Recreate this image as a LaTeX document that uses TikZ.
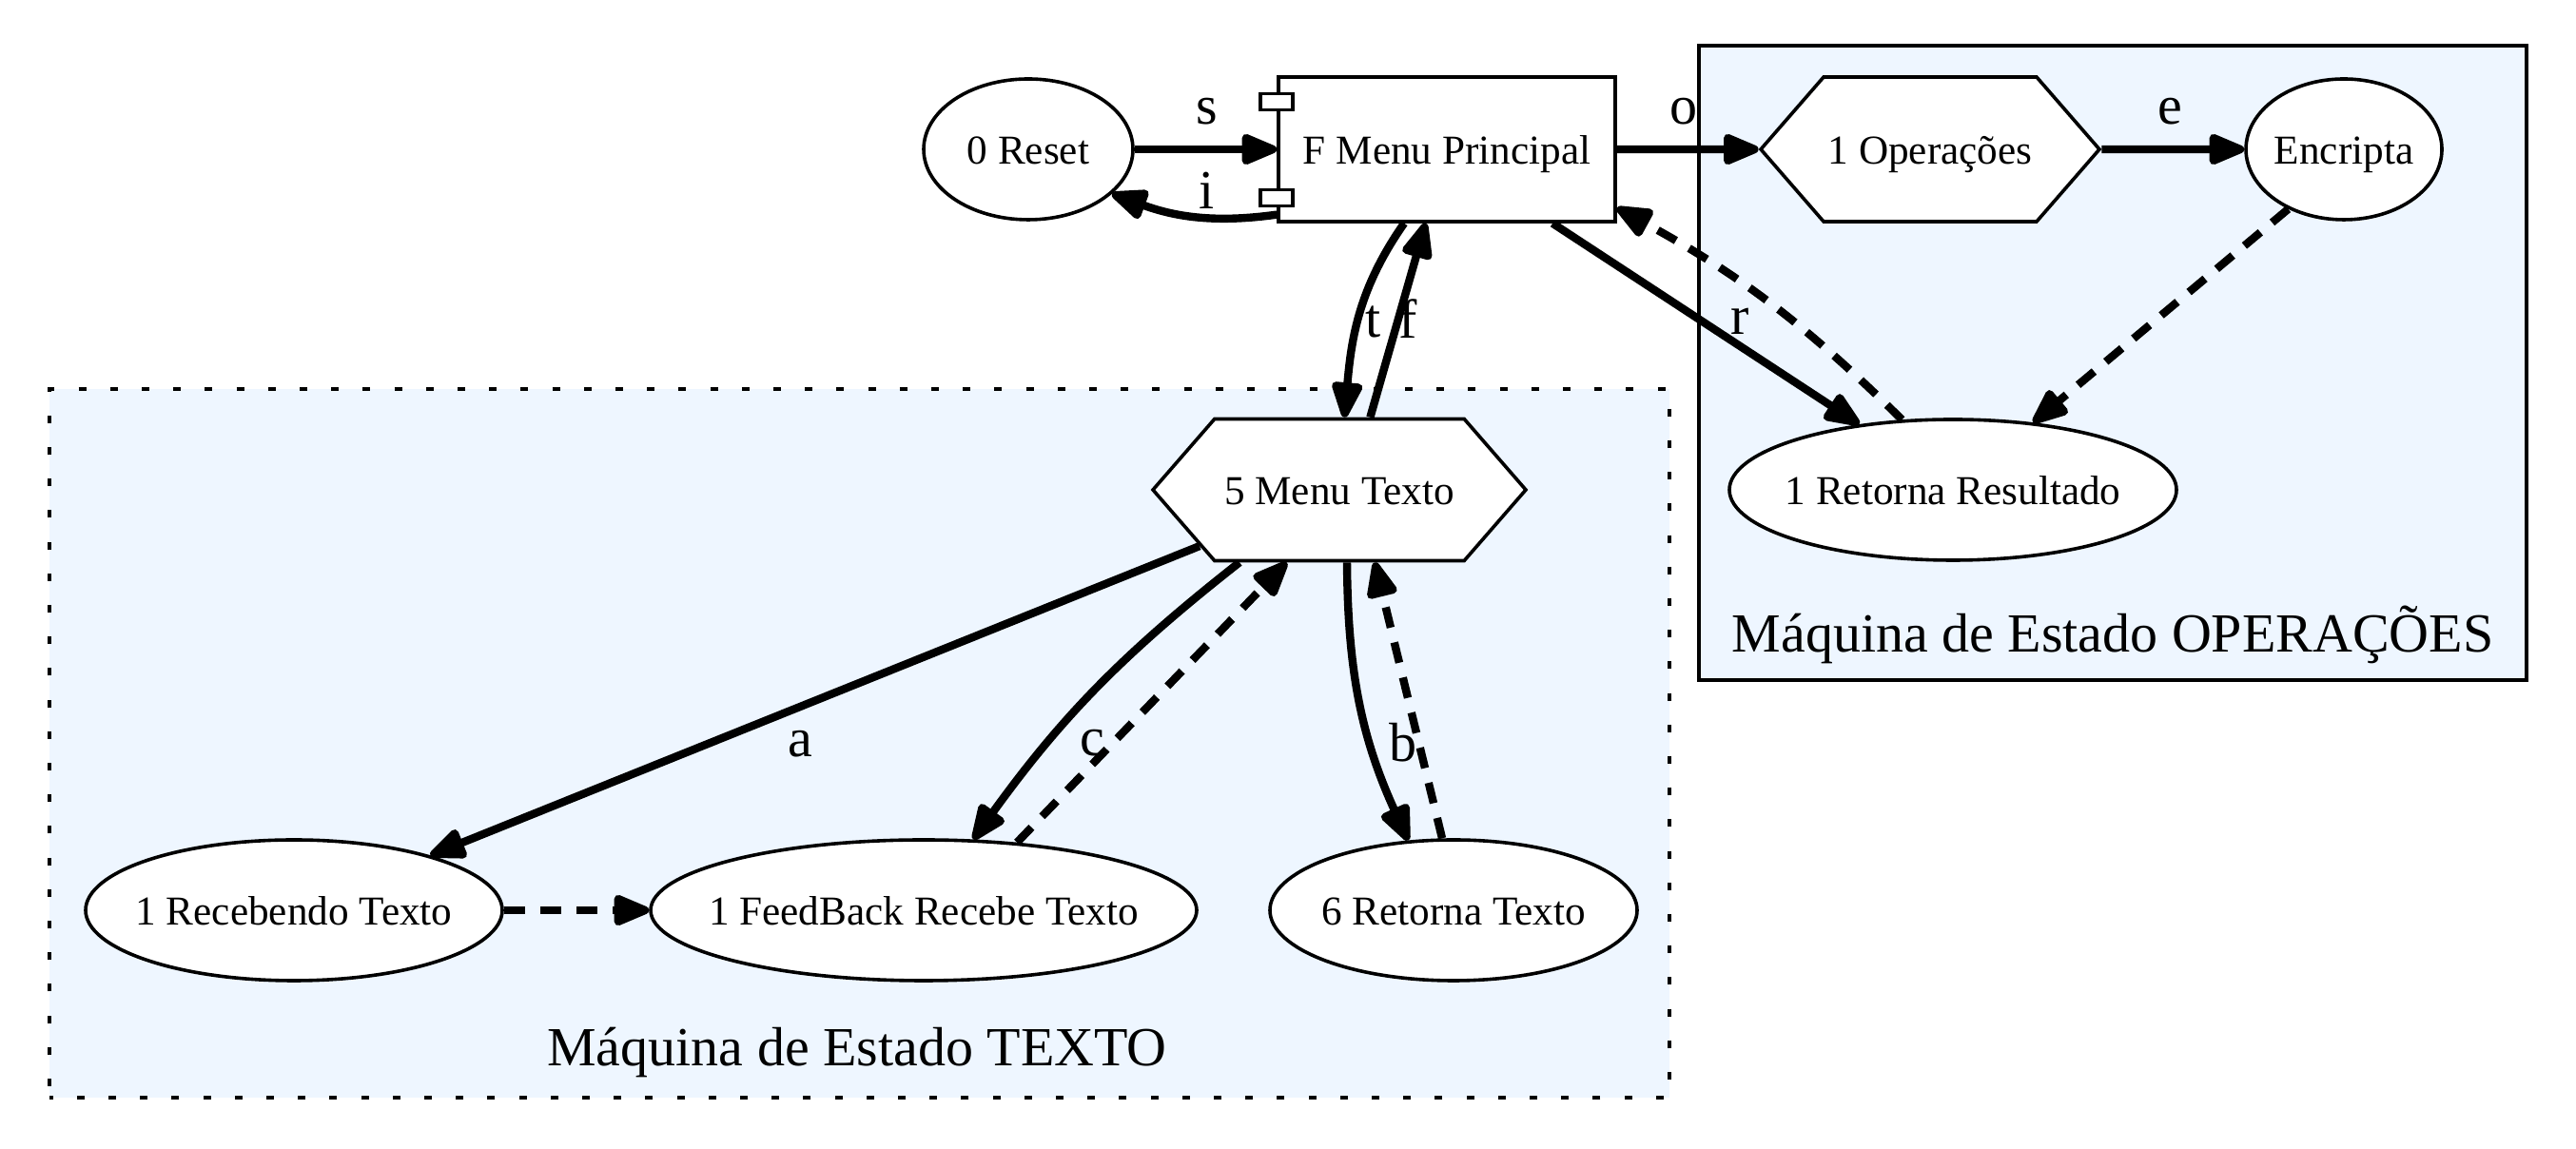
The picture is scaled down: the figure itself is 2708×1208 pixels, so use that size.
\documentclass[tikz,border=0pt]{standalone}
\usepackage{fontspec}
\setmainfont{Liberation Serif}
\usetikzlibrary{arrows.meta,shapes.geometric,shapes.symbols}
\definecolor{clfill}{RGB}{238,246,255}
\begin{document}
\begin{tikzpicture}[x=0.25pt,y=0.25pt,
  st/.style={draw,line width=0.9pt,fill=white,inner sep=0pt,text height=7.6pt,text depth=0pt,font=\fontsize{10.8}{12}\selectfont},
  ell/.style={st,ellipse},
  hexa/.style={st,signal,signal to=east and west,signal pointer angle=98},
  edge/.style={line width=2.1pt,-{Triangle[length=11pt,width=8.5pt,round]}},
  edgedash/.style={edge,dash pattern=on 5.5pt off 4pt},
  lbl/.style={font=\fontsize{14.5}{16}\selectfont,inner sep=0pt},
  port/.style={draw,line width=0.9pt,fill=white,inner sep=0pt,minimum width=8.5pt,minimum height=4.25pt},
]
\useasboundingbox (0,0) rectangle (2708,1208);
% clusters
\path[fill=clfill,draw,line width=0.8pt] (1786,493) rectangle (2656,1160);
\path[fill=clfill] (52,54) rectangle (1755,799);
\draw[line width=0.9pt,dash pattern=on 2pt off 6.3pt,dash phase=-3pt] (52,54) rectangle (1755,799);
\node[lbl] (lop) at (2221,541) {Máquina de Estado OPERAÇÕES};
\node[lbl] (ltx) at (901,101) {Máquina de Estado TEXTO};
% nodes
\node[ell,minimum width=55pt,minimum height=37pt] (reset) at (1081,1051) {\makebox[0pt]{0 Reset}};
\node[st,rectangle,minimum width=88.5pt,minimum height=38pt] (principal) at (1521,1051) {F Menu Principal};
\node[port] (p1) at ([yshift=12.5pt]principal.west) {};
\node[port] (p2) at ([yshift=-12.75pt]principal.west) {};
\node[hexa,minimum width=89pt,minimum height=38pt] (oper) at (2029,1051) {1 Operações};
\node[ell,minimum width=51.5pt,minimum height=37pt] (encr) at (2464,1051) {\makebox[0pt]{Encripta}};
\node[ell,minimum width=117.5pt,minimum height=37pt] (retres) at (2053,693) {\makebox[0pt]{1 Retorna Resultado}};
\node[hexa,minimum width=98pt,minimum height=37.25pt] (mt) at (1408,693) {5 Menu Texto};
\node[ell,minimum width=109.5pt,minimum height=37pt] (receb) at (309,251) {\makebox[0pt]{1 Recebendo Texto}};
\node[ell,minimum width=143.5pt,minimum height=37pt] (feed) at (971,251) {\makebox[0pt]{1 FeedBack Recebe Texto}};
\node[ell,minimum width=96.5pt,minimum height=37pt] (ret6) at (1528,251) {\makebox[0pt]{6 Retorna Texto}};
% edges
\draw[edge] (reset) -- (principal);
\draw[edge] (principal.201) to[out=188,in=-20] (reset.-28);
\draw[edge] (principal) -- (oper);
\draw[edge] (oper) -- (encr);
\draw[edgedash] (encr.-133) -- (retres.40);
\draw[edge] (principal.-35) -- (retres.145.5);
\draw[edgedash] (retres.126) to[bend right=8] (principal.-19.3);
\draw[edge] (principal.-120) to[out=-125,in=85] (mt.86);
\draw[edge] (mt.67.5) -- (principal.-106);
\draw[edge] (mt) -- (receb);
\draw[edge] (mt.-144.5) to[bend right=8] (feed.55.6);
\draw[edgedash] (feed.36.5) -- (mt.-126);
\draw[edge] (mt.-84) to[bend right=12] (ret6.123.7);
\draw[edgedash] (ret6.99) -- (mt.-64);
\draw[edgedash] (receb) -- (feed);
% labels
\node[lbl] (ls) at (1269,1091) {s};
\node[lbl] (li) at (1269,1008) {i};
\node[lbl] (lo) at (1770,1091) {o};
\node[lbl] (le) at (2281,1091) {e};
\node[lbl] (lr) at (1829,870) {r};
\node[lbl] (lt) at (1444,870) {t};
\node[lbl] (lf) at (1480,873) {f};
\node[lbl] (la) at (841,426) {a};
\node[lbl] (lc) at (1148,427) {c};
\node[lbl] (lb) at (1475,427) {b};
\end{tikzpicture}
\end{document}
